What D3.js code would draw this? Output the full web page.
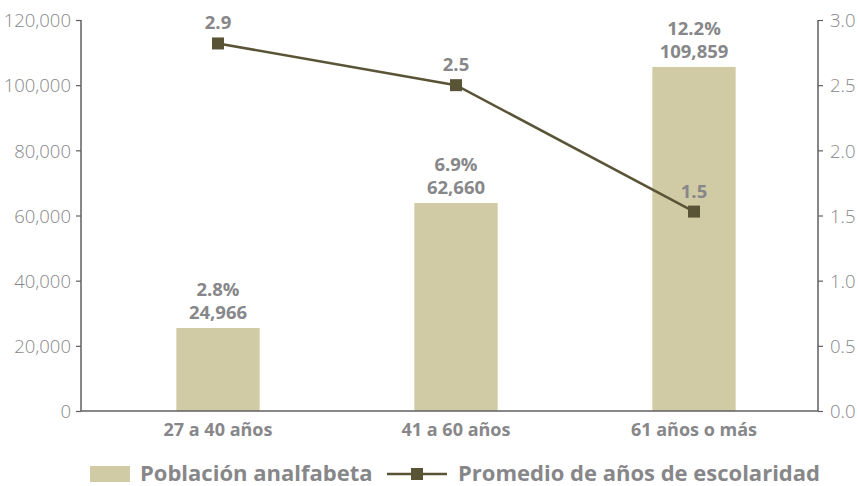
<!DOCTYPE html>
<html><head><meta charset="utf-8">
<script src="https://cdn.jsdelivr.net/npm/d3@7/dist/d3.min.js"></script>
<style>body{margin:0;background:#fff;} svg{display:block;}</style>
</head><body><svg id="c" width="858" height="486"></svg>
<script>
const categories = ["27 a 40 años", "41 a 60 años", "61 años o más"];
const poblacion = [25470, 63840, 105600];
const poblacionLabels = ["24,966", "62,660", "109,859"];
const porcentajeLabels = ["2.8%", "6.9%", "12.2%"];
const promedio = [2.82, 2.5, 1.53];
const promedioLabels = ["2.9", "2.5", "1.5"];
const leftTicks = [0, 20000, 40000, 60000, 80000, 100000, 120000];
const rightTicks = [0, 0.5, 1.0, 1.5, 2.0, 2.5, 3.0];

const svg = d3.select("#c");
const FONT = "'Open Sans', sans-serif";
const gray = "#87878a";
const axisCol = "#5f5f5f";
const barCol = "#d0cba4";
const lineCol = "#5a5437";

const x0 = 81, x1 = 818, yTop = 20, yBot = 411;
const x = d3.scaleBand().domain(categories).range([99, 813]).paddingInner(0.65).paddingOuter(0.325);
const yL = d3.scaleLinear().domain([0, 120000]).range([yBot, yTop]);
const yR = d3.scaleLinear().domain([0, 3]).range([yBot, yTop]);

// bars
svg.selectAll("rect.bar").data(poblacion).join("rect")
  .attr("x", (d,i) => x(categories[i])).attr("width", x.bandwidth())
  .attr("y", d => yL(d)).attr("height", d => yBot - yL(d)).attr("fill", barCol);

// axes
const fmt = d3.format(",");
const gL = svg.append("g").attr("transform", `translate(${x0},0)`)
  .call(d3.axisLeft(yL).tickValues(leftTicks).tickFormat(fmt).tickSize(5).tickPadding(5));
const gR = svg.append("g").attr("transform", `translate(${x1},0)`)
  .call(d3.axisRight(yR).tickValues(rightTicks).tickFormat(d3.format(".1f")).tickSize(5).tickPadding(7));
[gL, gR].forEach(g => {
  g.select(".domain").attr("stroke", axisCol).attr("stroke-width", 1.5).attr("d", `M0,${yTop}V${yBot}`);
  g.selectAll(".tick line").attr("stroke", axisCol).attr("stroke-width", 1.2);
  g.selectAll(".tick text").attr("fill", gray).attr("font-family", FONT).attr("font-weight", 300).attr("font-size", 18.5).attr("dy", "0.36em");
});
const gX = svg.append("g").attr("transform", `translate(0,${yBot})`)
  .call(d3.axisBottom(x).tickSize(0).tickPadding(12));
gX.select(".domain").attr("stroke", axisCol).attr("stroke-width", 1.5).attr("d", `M${x0},0H${x1}`);
gX.selectAll(".tick text").attr("fill", gray).attr("font-family", FONT).attr("font-weight", 700).attr("font-size", 18);

// bar labels
const cx = i => x(categories[i]) + x.bandwidth()/2;
const lblSize = 18.5;
svg.selectAll("text.v").data(poblacion).join("text")
  .attr("x", (d,i) => cx(i)).attr("y", d => yL(d) - 9).attr("text-anchor", "middle")
  .attr("fill", gray).attr("font-family", FONT).attr("font-weight", 700).attr("font-size", lblSize)
  .text((d,i) => poblacionLabels[i]);
svg.selectAll("text.p").data(poblacion).join("text")
  .attr("x", (d,i) => cx(i)).attr("y", d => yL(d) - 32).attr("text-anchor", "middle")
  .attr("fill", gray).attr("font-family", FONT).attr("font-weight", 700).attr("font-size", lblSize)
  .text((d,i) => porcentajeLabels[i]);

// line
const line = d3.line().x((d,i) => cx(i)).y(d => yR(d));
svg.append("path").datum(promedio).attr("d", line).attr("fill", "none").attr("stroke", lineCol).attr("stroke-width", 2.5);
svg.selectAll("rect.m").data(promedio).join("rect")
  .attr("x", (d,i) => cx(i) - 6).attr("y", d => yR(d) - 6).attr("width", 12).attr("height", 12).attr("fill", lineCol);
svg.selectAll("text.l").data(promedio).join("text")
  .attr("x", (d,i) => cx(i)).attr("y", d => yR(d) - 14).attr("text-anchor", "middle")
  .attr("fill", gray).attr("font-family", FONT).attr("font-weight", 700).attr("font-size", lblSize)
  .text((d,i) => promedioLabels[i]);

// legend
const lg = svg.append("g");
lg.append("rect").attr("x", 90).attr("y", 466).attr("width", 40).attr("height", 16).attr("fill", barCol);
lg.append("text").attr("x", 140).attr("y", 481).attr("fill", gray).attr("font-family", FONT).attr("font-weight", 700).attr("font-size", 22).text("Población analfabeta");
lg.append("line").attr("x1", 387).attr("x2", 447).attr("y1", 474).attr("y2", 474).attr("stroke", lineCol).attr("stroke-width", 2.5);
lg.append("rect").attr("x", 411).attr("y", 468).attr("width", 12).attr("height", 12).attr("fill", lineCol);
lg.append("text").attr("x", 458).attr("y", 481).attr("fill", gray).attr("font-family", FONT).attr("font-weight", 700).attr("font-size", 22).text("Promedio de años de escolaridad");
</script></body></html>
